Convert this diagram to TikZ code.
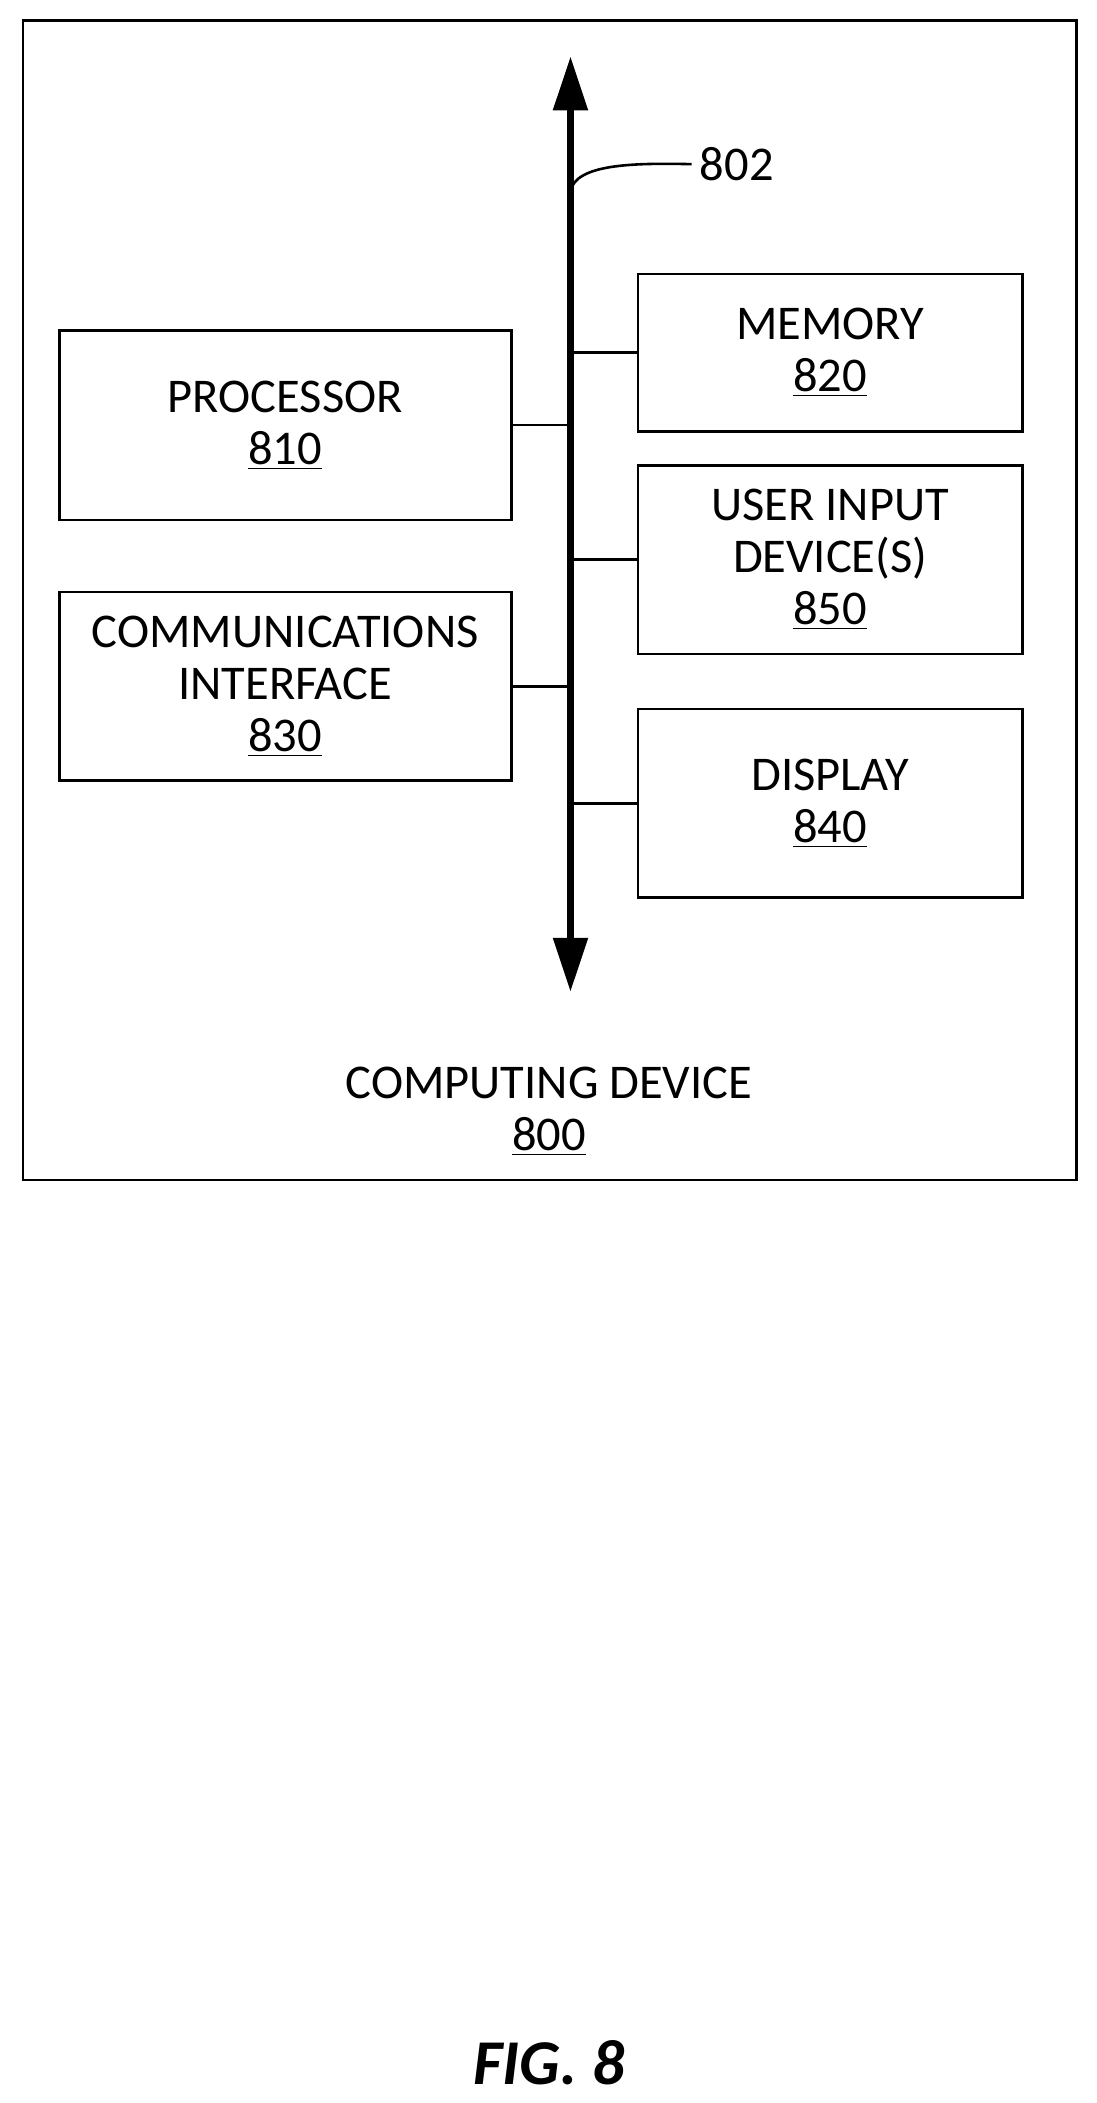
\documentclass[tikz,border=0pt]{standalone}
\usepackage{fontspec}
\setmainfont{Carlito}
\usetikzlibrary{arrows.meta,positioning}
\begin{document}
\begin{tikzpicture}[x=0.02cm,y=-0.02cm,
    unit/.style={draw,line width=1.1pt,minimum width=5.72cm,minimum height=2.8cm,align=center,font=\fontsize{20.5}{22}\selectfont,inner sep=0pt},
    link/.style={line width=1.1pt},
    lbl/.style={font=\fontsize{20.5}{22}\selectfont,align=center}
  ]
    \useasboundingbox (0,0) rectangle (815,1563);
    % Outer device box
    \node[draw,line width=1.1pt,minimum width=15.66cm,minimum height=17.24cm,inner sep=0pt] (dev) at (408.5,446) {};
    \node[lbl] (devlbl) at (408,826) {COMPUTING DEVICE\\\underline{800}};
    % Bus
    \coordinate (bustop) at (424,42);
    \coordinate (busbot) at (424,737);
    \draw[line width=2.8pt,{Triangle[length=0.8cm,width=0.5cm]}-{Triangle[length=0.8cm,width=0.5cm]}] (bustop) -- (busbot);
    \node[lbl,anchor=west] (buslbl) at (514,122) {802};
    \draw[link] (424,142) .. controls (428,122) and (470,121) .. (buslbl.west);
    % Units
    \node[unit,minimum width=6.72cm,minimum height=2.82cm] (proc) at (212,316) {PROCESSOR\\\underline{810}};
    \node[unit,minimum width=6.72cm,minimum height=2.8cm] (comm) at (212,510) {COMMUNICATIONS\\INTERFACE\\\underline{830}};
    \node[unit,minimum height=2.34cm] (mem) at (617,262) {MEMORY\\\underline{820}};
    \node[unit] (uin) at (617,416) {USER INPUT\\DEVICE(S)\\\underline{850}};
    \node[unit] (disp) at (617,597) {DISPLAY\\\underline{840}};
    % Links to bus
    \foreach \n in {proc,comm} \draw[link] (\n.east) -- (\n.east -| bustop);
    \foreach \n in {mem,uin,disp} \draw[link] (\n.west) -- (\n.west -| bustop);
    % Caption
    \node[font=\fontsize{27}{30}\selectfont\bfseries\itshape] (fig) at (408,1533) {FIG. 8};
\end{tikzpicture}
\end{document}
